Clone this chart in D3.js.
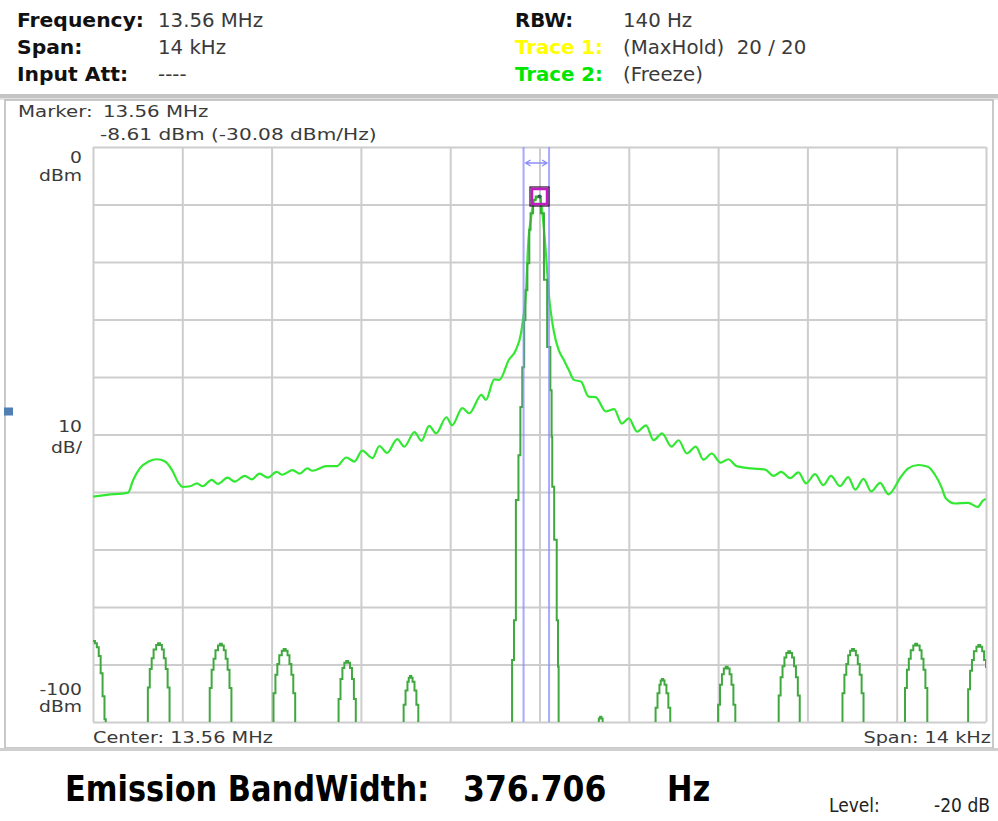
<!DOCTYPE html>
<html>
<head>
<meta charset="utf-8">
<script src="https://cdn.jsdelivr.net/npm/d3@7"></script>
<style>
  body { margin: 0; background: #fff; }
  svg { display: block; }
  text { white-space: pre; }
</style>
</head>
<body>
<svg width="998" height="821"></svg>
<script>
// frequency is offset from centre in kHz, level in dBm
const trace2Freq = [-7.00,-6.78,-6.45,-6.37,-6.26,-6.13,-5.99,-5.87,-5.76,-5.66,-5.60,-5.48,-5.37,-5.28,-5.14,-5.04,-4.89,-4.78,-4.62,-4.51,-4.39,-4.26,-4.12,-4.03,-3.87,-3.76,-3.64,-3.56,-3.34,-3.18,-3.03,-2.90,-2.78,-2.62,-2.51,-2.39,-2.23,-2.12,-1.96,-1.85,-1.73,-1.62,-1.46,-1.37,-1.21,-1.10,-0.91,-0.84,-0.71,-0.63,-0.48,-0.37,-0.29,-0.26,-0.21,-0.18,-0.13,-0.09,0.00,
  0.04,0.10,0.15,0.18,0.23,0.30,0.38,0.46,0.54,0.65,0.77,0.88,1.04,1.17,1.29,1.40,1.53,1.67,1.79,1.92,2.07,2.18,2.31,2.45,2.57,2.70,2.84,2.96,3.09,3.32,3.54,3.67,3.79,3.93,4.06,4.18,4.32,4.45,4.57,4.71,4.84,4.95,5.08,5.20,5.34,5.47,5.67,5.78,5.94,6.09,6.20,6.30,6.37,6.51,6.72,6.87,6.95,7.00];
const trace2Level = [-60.8,-60.5,-60.1,-57.9,-55.8,-54.7,-54.3,-54.7,-56.2,-58.4,-59.1,-59.0,-58.5,-59.0,-57.9,-58.6,-57.5,-58.2,-57.2,-57.8,-56.8,-57.5,-56.5,-57.0,-56.2,-56.8,-55.9,-56.3,-55.5,-55.5,-54.0,-54.7,-52.8,-54.1,-52.0,-53.2,-50.8,-52.1,-49.6,-51.1,-48.5,-49.8,-47.0,-48.4,-45.4,-46.3,-43.1,-44.0,-40.4,-40.5,-37.0,-35.3,-32.4,-30.1,-24.9,-17.3,-12.1,-9.5,-8.6,
  -11.0,-18.4,-26.1,-28.9,-32.4,-35.3,-37.0,-38.8,-40.5,-40.8,-43.4,-43.5,-46.0,-45.6,-48.1,-47.2,-49.5,-48.4,-51.0,-49.8,-52.1,-51.0,-53.3,-52.1,-54.4,-53.3,-54.9,-54.3,-55.5,-55.9,-56.1,-57.2,-56.5,-57.6,-56.6,-58.5,-56.9,-58.8,-57.2,-59.0,-57.4,-59.6,-57.7,-59.9,-58.4,-60.4,-57.3,-55.9,-55.3,-55.6,-57.0,-59.1,-61.1,-62.0,-61.9,-62.6,-61.5,-61.2];

const trace1Freq = [
  -7.00,-6.97,-6.94,-6.91,-6.88,-6.85,-6.82,-6.80,
  -6.17,-6.14,-6.11,-6.08,-6.05,-6.01,-5.98,-5.95,-5.92,-5.89,-5.86,-5.83,-5.80,
  -5.20,-5.17,-5.14,-5.11,-5.08,-5.04,-5.01,-4.98,-4.95,-4.92,-4.89,-4.86,-4.83,
  -4.20,-4.17,-4.14,-4.11,-4.08,-4.04,-4.01,-3.98,-3.95,-3.92,-3.89,-3.86,-3.83,
  -3.18,-3.15,-3.12,-3.09,-3.06,-3.03,-3.00,-2.97,-2.94,-2.91,-2.88,
  -2.16,-2.13,-2.10,-2.07,-2.05,-2.03,-2.01,-1.99,-1.96,-1.93,-1.90,
  -0.55,-0.43,-0.40,-0.37,-0.33,-0.30,-0.27,-0.24,-0.22,-0.19,-0.16,-0.14,-0.10,-0.06,0.02,0.07,0.12,0.17,0.19,0.20,0.23,0.27,0.29,0.30,
  0.88,0.91,0.93,0.95,0.97,0.99,1.02,
  1.79,1.82,1.85,1.88,1.90,1.92,1.94,1.96,1.99,2.02,2.05,
  2.77,2.80,2.83,2.86,2.89,2.92,2.95,2.98,3.01,3.04,3.07,
  3.72,3.75,3.78,3.81,3.84,3.87,3.90,3.93,3.96,3.99,4.02,4.05,4.08,
  4.72,4.75,4.78,4.81,4.84,4.87,4.90,4.93,4.96,4.99,5.02,5.05,5.08,
  5.70,5.73,5.76,5.79,5.82,5.86,5.89,5.92,5.96,5.99,6.02,6.05,6.08,
  6.69,6.72,6.75,6.78,6.81,6.85,6.88,6.91,6.94,6.97,7.00];
const trace1Level = [
  -85.9,-86.3,-87.0,-88.5,-91.5,-95.5,-99.5,-102,
  -102,-94.0,-90.8,-88.9,-87.4,-86.6,-86.3,-86.6,-87.4,-88.9,-90.8,-94.0,-102,
  -102,-94.1,-90.9,-89.0,-87.5,-86.7,-86.4,-86.7,-87.5,-89.0,-90.9,-94.1,-102,
  -102,-95.0,-91.8,-89.9,-88.4,-87.6,-87.3,-87.6,-88.4,-89.9,-91.8,-95.0,-102,
  -102,-96.0,-92.5,-90.6,-89.7,-89.4,-89.7,-90.6,-92.5,-96.0,-102,
  -102,-97.0,-94.5,-93.0,-92.3,-92.0,-92.3,-93.0,-94.5,-97.0,-102,
  -102,-89.2,-82.3,-61.4,-53.6,-45.2,-38.3,-30.1,-24.9,-20.2,-14.4,-11.5,-9.2,-8.6,-11.5,-23.1,-34.8,-42.3,-50.4,-59.1,-68.3,-82.3,-90.4,-102,
  -102,-100.2,-99.4,-99.1,-99.4,-100.2,-102,
  -102,-97.5,-95.0,-93.5,-92.8,-92.5,-92.8,-93.5,-95.0,-97.5,-102,
  -102,-97.0,-93.5,-91.7,-90.7,-90.4,-90.7,-91.7,-93.5,-97.0,-102,
  -102,-95.4,-92.2,-90.3,-88.8,-88.0,-87.7,-88.0,-88.8,-90.3,-92.2,-95.4,-102,
  -102,-95.0,-91.8,-89.9,-88.4,-87.6,-87.3,-87.6,-88.4,-89.9,-91.8,-95.0,-102,
  -102,-94.1,-90.9,-89.0,-87.5,-86.7,-86.4,-86.7,-87.5,-89.0,-90.9,-94.1,-102,
  -102,-94.3,-91.1,-89.2,-87.7,-86.9,-86.6,-86.9,-87.7,-89.2,-90.6];

const xGridKHz = [-7, -5.6, -4.2, -2.8, -1.4, 0, 1.4, 2.8, 4.2, 5.6, 7];
const yGridDbm = [0, -10, -20, -30, -40, -50, -60, -70, -80, -90, -100];
const yLabelLevels = [0, -50, -100];
const yLabelTop = ["0", "10", "-100"];
const yLabelBottom = ["dBm", "dB/", "dBm"];

const headerLeftLabels = ["Frequency:", "Span:", "Input Att:"];
const headerLeftValues = ["13.56 MHz", "14 kHz", "----"];
const headerRightLabels = ["RBW:", "Trace 1:", "Trace 2:"];
const headerRightColors = ["#111", "#ffff00", "#00e600"];
const headerRightValues = ["140 Hz", "(MaxHold)  20 / 20", "(Freeze)"];

const markerFreq = 0, markerLevel = -8.61;
const markerText = ["Marker:", "13.56 MHz", "-8.61 dBm (-30.08 dBm/Hz)"];
const ebwLow = -0.25, ebwHigh = 0.15;   // kHz
const refLevelMark = -46;

const plot = { left: 93, right: 986, top: 147, bottom: 722 };

const svg = d3.select("svg");

const x = d3.scaleLinear().domain([-7, 7]).range([plot.left, plot.right]);
const y = d3.scaleLinear().domain([-100, 0]).range([plot.bottom, plot.top]);

function label(str, x0, y0, o) {
  let g = svg.append("g")
    .attr("transform", `translate(${x0},${y0}) scale(${o.sx || 1},1)`);
  g.append("text")
    .attr("font-family", o.font || "DejaVu Sans")
    .attr("font-size", o.size)
    .attr("font-weight", o.bold ? "bold" : "normal")
    .attr("fill", o.fill || "#3a3a3a")
    .attr("text-anchor", o.anchor || "start")
    .text(str);
}

// header
headerLeftLabels.forEach((s, i) => {
  label(s, 17, 27 + i * 27, { size: 19, bold: true, sx: 1.07, fill: "#111" });
  label(headerLeftValues[i], 158, 27 + i * 27, { size: 19, sx: 1.04 });
});
headerRightLabels.forEach((s, i) => {
  label(s, 515, 27 + i * 27, { size: 19, bold: true, sx: 1.04, fill: headerRightColors[i] });
  label(headerRightValues[i], 623, 27 + i * 27, { size: 19, sx: 1.04 });
});

// panel frame
svg.append("rect").attr("x", 0).attr("y", 94).attr("width", 998).attr("height", 6).attr("fill", "#c4c4c4");
svg.append("rect").attr("x", 0).attr("y", 98).attr("width", 998).attr("height", 2).attr("fill", "#e2e2e2");
svg.append("rect").attr("x", 5).attr("y", 100).attr("width", 988).attr("height", 648)
  .attr("fill", "none").attr("stroke", "#b8b8b8").attr("stroke-width", 1.5);
svg.append("rect").attr("x", 0).attr("y", 748).attr("width", 998).attr("height", 3).attr("fill", "#cfcfcf");

// marker readout
label(markerText[0], 18, 117, { size: 16.5, sx: 1.2 });
label(markerText[1], 103, 117, { size: 16.5, sx: 1.2 });
label(markerText[2], 100, 140, { size: 16.5, sx: 1.22 });

// grid
svg.append("g")
  .attr("transform", `translate(0,${plot.bottom})`)
  .call(d3.axisBottom(x).tickValues(xGridKHz).tickSize(-(plot.bottom - plot.top)).tickFormat(""))
  .call(g => g.select(".domain").remove())
  .selectAll("line").attr("stroke", "#cdcdcd").attr("stroke-width", 2);
svg.append("g")
  .attr("transform", `translate(${plot.left},0)`)
  .call(d3.axisLeft(y).tickValues(yGridDbm).tickSize(-(plot.right - plot.left)).tickFormat(""))
  .call(g => g.select(".domain").remove())
  .selectAll("line").attr("stroke", "#cdcdcd").attr("stroke-width", 2);

// y labels
const yOff = [[16, 34], [-3, 18], [-27, -10]];
yLabelLevels.forEach((v, i) => {
  label(yLabelTop[i], 82, y(v) + yOff[i][0], { size: 15, sx: 1.25, anchor: "end" });
  label(yLabelBottom[i], 82, y(v) + yOff[i][1], { size: 15, sx: 1.25, anchor: "end" });
});

// ref level tab on the frame
svg.append("rect").attr("x", 4).attr("y", y(refLevelMark) - 4).attr("width", 9).attr("height", 8).attr("fill", "#4f7fb3");

svg.append("clipPath").attr("id", "clip")
  .append("rect").attr("x", plot.left).attr("y", plot.top)
  .attr("width", plot.right - plot.left).attr("height", plot.bottom - plot.top);

const traces = svg.append("g").attr("clip-path", "url(#clip)");

const line2 = d3.line().x(d => x(d[0])).y(d => y(d[1])).curve(d3.curveMonotoneX);
const line1 = d3.line().x(d => x(d[0])).y(d => y(d[1])).curve(d3.curveStepAfter);

traces.append("path")
  .datum(d3.zip(trace2Freq, trace2Level))
  .attr("d", line2)
  .attr("fill", "none").attr("stroke", "#33e833").attr("stroke-width", 2.2);

traces.append("path")
  .datum(d3.zip(trace1Freq, trace1Level))
  .attr("d", line1)
  .attr("fill", "none").attr("stroke", "#3fa83f").attr("stroke-width", 2);

// emission bandwidth lines
[ebwLow, ebwHigh].forEach(f => {
  traces.append("line")
    .attr("x1", x(f)).attr("x2", x(f)).attr("y1", plot.top).attr("y2", plot.bottom)
    .attr("stroke", "#8c8cff").attr("stroke-opacity", 0.75).attr("stroke-width", 2);
});
const ay = plot.top + 16, ax1 = x(ebwLow) + 2, ax2 = x(ebwHigh) - 2;
traces.append("path")
  .attr("d", `M${ax1},${ay}H${ax2}M${ax1 + 5},${ay - 3}L${ax1},${ay}L${ax1 + 5},${ay + 3}M${ax2 - 5},${ay - 3}L${ax2},${ay}L${ax2 - 5},${ay + 3}`)
  .attr("fill", "none").attr("stroke", "#8c8cff").attr("stroke-width", 1.3);

// marker
const mx = x(markerFreq), my = y(markerLevel);
svg.append("rect").attr("x", mx - 9.5).attr("y", my - 9.5).attr("width", 19).attr("height", 19)
  .attr("fill", "none").attr("stroke", "#2a0a2a").attr("stroke-width", 1.2);
svg.append("rect").attr("x", mx - 7.5).attr("y", my - 7.5).attr("width", 15).attr("height", 15)
  .attr("fill", "none").attr("stroke", "#c21bc2").attr("stroke-width", 2.5);
svg.append("circle").attr("cx", mx).attr("cy", my).attr("r", 2).attr("fill", "#2f5f4f");

// bottom of plot
label("Center: 13.56 MHz", 93, 743, { size: 16.5, sx: 1.17 });
label("Span: 14 kHz", 991, 743, { size: 16.5, sx: 1.17, anchor: "end" });

// footer
label("Emission BandWidth:", 65, 801, { size: 35, bold: true, fill: "#000", sx: 0.87 });
label("376.706", 463, 801, { size: 35, bold: true, fill: "#000", sx: 0.9 });
label("Hz", 667, 801, { size: 35, bold: true, fill: "#000", sx: 0.87 });
label("Level:", 829, 812, { size: 19, font: "DejaVu Sans Condensed", fill: "#222", sx: 1.0 });
label("-20 dB", 990, 812, { size: 19, font: "DejaVu Sans Condensed", fill: "#222", sx: 1.0, anchor: "end" });
</script>
</body>
</html>
